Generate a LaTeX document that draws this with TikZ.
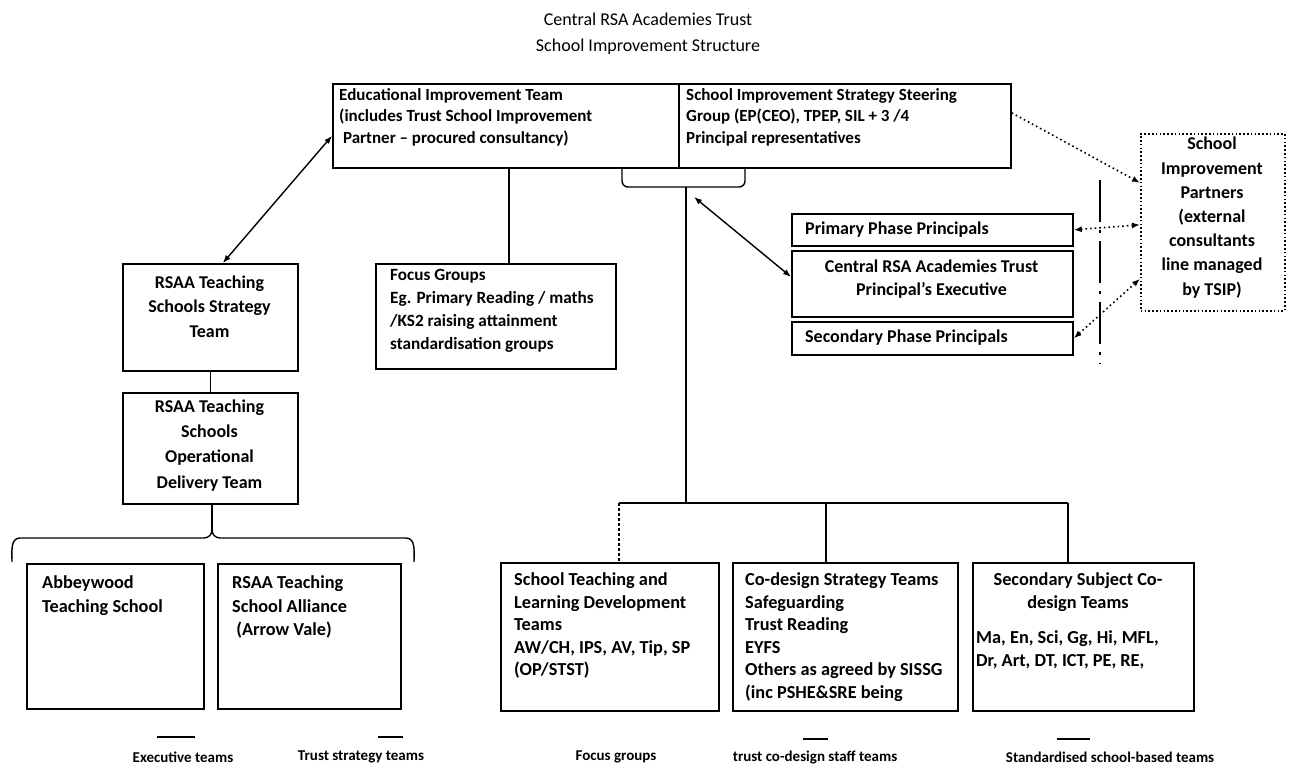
\documentclass[tikz,border=0pt]{standalone}
\usepackage{fontspec}
\setmainfont{Carlito}
\usetikzlibrary{arrows.meta}
\begin{document}
\begin{tikzpicture}[x=1pt,y=-1pt,
  box/.style={draw, line width=1.7pt, inner sep=0pt, anchor=north west},
  dotbox/.style={draw, line width=1.6pt, dash pattern=on 1.6pt off 2.2pt, inner sep=0pt, anchor=north west},
  txt/.style={font=\bfseries\fontsize{17}{21.7}\selectfont, align=left, anchor=north west, inner sep=0pt},
  ctxt/.style={txt, align=center, anchor=north},
  conn/.style={line width=1.4pt},
  arr/.style={conn, {Latex[length=8pt,width=6pt]}-{Latex[length=8pt,width=6pt]}},
  darr/.style={line width=1.6pt, dash pattern=on 1.6pt off 3pt, {Latex[length=8pt,width=6pt]}-{Latex[length=8pt,width=6pt]}},
  darrr/.style={line width=1.6pt, dash pattern=on 1.6pt off 3pt, -{Latex[length=8pt,width=6pt]}},
  leg/.style={font=\bfseries\fontsize{15}{18}\selectfont, inner sep=0pt}
]
\useasboundingbox (0,0) rectangle (1292,765);

% title
\node[ctxt, font=\fontsize{18}{26}\selectfont] (title) at (648,12.5) {Central RSA Academies Trust\\School Improvement Structure};

% top boxes
\node[box, minimum width=346pt, minimum height=84pt] (eit) at (332,83) {};
\node[txt] (eitT) at (339,88) {Educational Improvement Team\\(includes Trust School Improvement\\ \ Partner -- procured consultancy)};
\node[box, minimum width=332pt, minimum height=84pt] (sissg) at (678,83) {};
\node[txt] (sissgT) at (686,88) {School Improvement Strategy Steering\\Group (EP(CEO), TPEP, SIL + 3 /4\\Principal representatives};

% left column
\node[box, minimum width=175pt, minimum height=107pt] (strat) at (122,263) {};
\node[ctxt, font=\bfseries\fontsize{18}{24.5}\selectfont] (stratT) at (209.5,275.5) {RSAA Teaching\\Schools Strategy\\Team};
\node[box, minimum width=175pt, minimum height=111pt] (op) at (122,392) {};
\node[ctxt, font=\bfseries\fontsize{18}{25.3}\selectfont] (opT) at (209.5,399.5) {RSAA Teaching\\Schools\\Operational\\Delivery Team};

% focus groups
\node[box, minimum width=240pt, minimum height=105pt] (focus) at (375,263) {};
\node[txt, font=\bfseries\fontsize{17.2}{23}\selectfont] (focusT) at (390,269) {Focus Groups\\Eg. Primary Reading / maths\\/KS2 raising attainment\\standardisation groups};

% principals stack
\node[box, minimum width=281pt, minimum height=32pt] (prim) at (791,213) {};
\node[txt, font=\bfseries\fontsize{18}{23}\selectfont] (primT) at (805,221.5) {Primary Phase Principals};
\node[box, minimum width=281pt, minimum height=66pt] (cent) at (791,250) {};
\node[ctxt, font=\bfseries\fontsize{18}{23}\selectfont] (centT) at (931.5,259.5) {Central RSA Academies Trust\\Principal's Executive};
\node[box, minimum width=281pt, minimum height=33pt] (sec) at (791,321) {};
\node[txt, font=\bfseries\fontsize{18}{23}\selectfont] (secT) at (805,329.5) {Secondary Phase Principals};

% school improvement partners
\node[dotbox, minimum width=144pt, minimum height=177pt] (sip) at (1140,133) {};
\node[ctxt, font=\bfseries\fontsize{18}{24.2}\selectfont] (sipT) at (1212,137) {School\\Improvement\\Partners\\(external\\consultants\\line managed\\by TSIP)};

% dash-dot divider
\coordinate (divtop) at (1100,180);
\coordinate (divbot) at (1100,364);
\draw[line width=2.6pt, dash pattern=on 42pt off 8pt on 3pt off 8pt] (divtop) -- (divbot);

% bottom boxes
\node[box, minimum width=177pt, minimum height=145pt] (abw) at (26,563) {};
\node[txt, font=\bfseries\fontsize{18.3}{24}\selectfont] (abwT) at (42,575.5) {Abbeywood\\Teaching School};
\node[box, minimum width=183pt, minimum height=145pt] (all) at (217,563) {};
\node[txt, font=\bfseries\fontsize{18.3}{23.5}\selectfont] (allT) at (232,575.5) {RSAA Teaching\\School Alliance\\ \ (Arrow Vale)};
\node[box, minimum width=218pt, minimum height=148pt] (stl) at (500,562) {};
\node[txt, font=\bfseries\fontsize{18.3}{22.5}\selectfont] (stlT) at (514,572.5) {School Teaching and\\Learning Development\\Teams\\AW/CH, IPS, AV, Tip, SP\\(OP/STST)};
\node[box, minimum width=225pt, minimum height=148pt] (cod) at (732,562) {};
\node[txt, font=\bfseries\fontsize{18.3}{22.5}\selectfont] (codT) at (745,572.5) {Co-design Strategy Teams\\Safeguarding\\Trust Reading\\EYFS\\Others as agreed by SISSG\\(inc PSHE\&SRE being};
\node[box, minimum width=221pt, minimum height=148pt] (ssc) at (972,562) {};
\node[ctxt, font=\bfseries\fontsize{18.3}{22.5}\selectfont] (sscT) at (1078,572.5) {Secondary Subject Co-\\design Teams};
\node[txt, font=\bfseries\fontsize{18.3}{22.5}\selectfont] (sscL) at (976,630.5) {Ma, En, Sci, Gg, Hi, MFL,\\Dr, Art, DT, ICT, PE, RE,};

% connectors
\coordinate (xf) at (509,0);
\draw[conn] (eit.south -| xf) -- (focus.north -| xf);
\draw[arr] ([xshift=12.5pt]strat.north) -- ([yshift=-10pt]eit.west);
\draw[conn] (strat.south) -- (op.north);

% bracket under top boxes and stem
\coordinate (bl) at (622,167);
\coordinate (br) at (745,167);
\coordinate (stemtop) at (686,187);
\coordinate (stembot) at (686,503);
\draw[conn] (bl) -- (622,181) to[out=-90,in=180] (628,187) -- (739,187) to[out=0,in=-90] (745,181) -- (br);
\draw[conn] (stemtop) -- (stembot);
\draw[arr] ([shift={(8,10)}]stemtop) -- ([yshift=7pt]cent.west);

% branches to bottom right boxes
\coordinate (hb1) at (619,503);
\coordinate (hb2) at (826,503);
\coordinate (hb3) at (1068,503);
\draw[conn] (hb1) -- (hb3);
\draw[conn, dash pattern=on 3pt off 2pt] (hb1) -- (stl.north -| hb1);
\draw[conn] (hb2) -- (cod.north -| hb2);
\draw[conn] (hb3) -- (ssc.north -| hb3);

% left brace
\coordinate (lbc) at (212,530);
\draw[conn] (op.south -| lbc) -- (lbc);
\draw[conn] (12,562) to[out=90,in=180] (20,538) -- (204,538) to[out=0,in=-90] (lbc) to[out=-90,in=180] (220,538) -- (406,538) to[out=0,in=90] (414,562);

% dotted arrows to partners
\draw[darrr] ([yshift=13pt]sissg.east) -- ([yshift=39.5pt]sip.west);
\draw[darr] (prim.east) -- ([yshift=-2.5pt]sip.west);
\draw[darr] (sec.east) -- ([yshift=-56.5pt]sip.west);

% legend
\coordinate (d1a) at (157,737); \coordinate (d1b) at (195,737);
\coordinate (d2a) at (378,737); \coordinate (d2b) at (403,737);
\coordinate (d3a) at (803,739); \coordinate (d3b) at (828,739);
\coordinate (d4a) at (1057,739); \coordinate (d4b) at (1090,739);
\draw[line width=2pt] (d1a) -- (d1b);
\draw[line width=2pt] (d2a) -- (d2b);
\draw[line width=2pt] (d3a) -- (d3b);
\draw[line width=2pt] (d4a) -- (d4b);
\node[leg] (l1) at (183,757) {Executive teams};
\node[leg] (l2) at (361,757) {Trust strategy teams};
\node[leg] (l3) at (616,757) {Focus groups};
\node[leg] (l4) at (815,757) {trust co-design staff teams};
\node[leg] (l5) at (1110,757) {Standardised school-based teams};
\end{tikzpicture}
\end{document}
